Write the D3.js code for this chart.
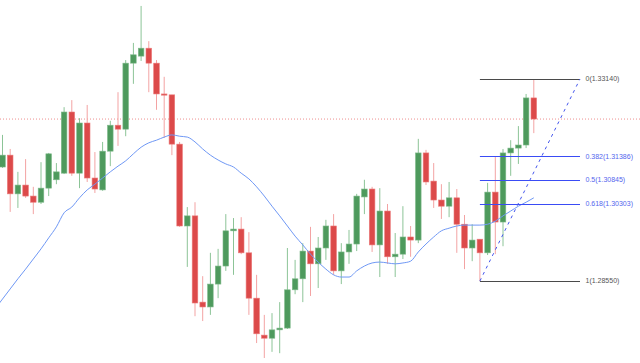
<!DOCTYPE html>
<meta charset="utf-8">
<style>
  body { margin: 0; background: #fff; }
  svg { display: block; }
</style>

<!-- Load d3.js -->
<script src="https://d3js.org/d3.v7.min.js"></script>

<svg id="chart" width="640" height="363"></svg>

<script>

// candle prices, oldest first
var opens  = [1.3114,1.3141,1.3053,1.3073,1.3048,1.3034,1.3066,1.3085,1.3100,1.3239,
              1.3100,1.3214,1.3089,1.3062,1.3150,1.3209,1.3200,1.3350,1.3366,1.3384,
              1.3350,1.3280,1.3278,1.3166,1.2980,1.3003,1.2807,1.2796,1.2848,1.2889,
              1.2969,1.2973,1.2919,1.2816,1.2732,1.2725,1.2744,1.2748,1.2835,1.2860,
              1.2923,1.2894,1.2930,1.2980,1.2878,1.2921,1.2939,1.3046,1.3064,1.2937,
              1.3014,1.2910,1.2916,1.2955,1.2948,1.3146,1.3082,1.3039,1.3025,1.3044,
              1.2984,1.2930,1.2950,1.2919,1.3057,1.2989,1.3146,1.3157,1.3164,1.3271];
var highs  = [1.3187,1.3155,1.3103,1.3132,1.3069,1.3125,1.3146,1.3123,1.3250,1.3266,
              1.3225,1.3255,1.3148,1.3171,1.3219,1.3284,1.3357,1.3396,1.3480,1.3400,
              1.3357,1.3319,1.3278,1.3171,1.3023,1.3034,1.2866,1.2919,1.2928,1.3007,
              1.2998,1.3000,1.2966,1.2869,1.2778,1.2782,1.2807,1.2930,1.2903,1.2941,
              1.2978,1.2955,1.2994,1.3007,1.2941,1.2971,1.3053,1.3085,1.3069,1.3066,
              1.3030,1.2964,1.3025,1.2980,1.3178,1.3153,1.3123,1.3075,1.3080,1.3064,
              1.3005,1.2984,1.2950,1.3078,1.3139,1.3155,1.3175,1.3207,1.3280,1.3314];
var lows   = [1.3112,1.3012,1.3021,1.3044,1.3007,1.3030,1.3048,1.3075,1.3098,1.3094,
              1.3066,1.3080,1.3055,1.3060,1.3116,1.3162,1.3184,1.3303,1.3355,1.3284,
              1.3244,1.3180,1.3141,1.2978,1.2887,1.2775,1.2764,1.2778,1.2816,1.2878,
              1.2869,1.2916,1.2778,1.2714,1.2680,1.2694,1.2691,1.2746,1.2825,1.2807,
              1.2821,1.2839,1.2903,1.2869,1.2848,1.2894,1.2923,1.3007,1.2921,1.2864,
              1.2894,1.2864,1.2905,1.2910,1.2941,1.3073,1.3021,1.2996,1.3000,1.2919,
              1.2882,1.2900,1.2855,1.2914,1.2916,1.2934,1.3094,1.3121,1.3157,1.3191];
var closes = [1.3141,1.3053,1.3073,1.3048,1.3034,1.3066,1.3144,1.3103,1.3239,1.3100,
              1.3214,1.3089,1.3064,1.3150,1.3209,1.3200,1.3350,1.3369,1.3384,1.3350,
              1.3280,1.3278,1.3166,1.2980,1.3003,1.2805,1.2796,1.2848,1.2889,1.2969,
              1.2973,1.2919,1.2816,1.2735,1.2725,1.2744,1.2748,1.2835,1.2860,1.2923,
              1.2894,1.2930,1.2980,1.2878,1.2921,1.2939,1.3048,1.3064,1.2937,1.3014,
              1.2910,1.2916,1.2955,1.2948,1.3146,1.3080,1.3039,1.3025,1.3044,1.2984,
              1.2930,1.2948,1.2919,1.3057,1.2989,1.3146,1.3157,1.3164,1.3271,1.3223];

// moving average, first value belongs to the bar just left of the window
var ma = [1.2791,
          1.2814,1.2837,1.2860,1.2882,1.2905,1.2928,1.2953,1.2978,1.3010,1.3023,
          1.3044,1.3062,1.3075,1.3089,1.3103,1.3116,1.3128,1.3144,1.3159,1.3169,
          1.3175,1.3182,1.3187,1.3184,1.3182,1.3171,1.3155,1.3141,1.3130,1.3121,
          1.3114,1.3100,1.3087,1.3069,1.3048,1.3025,1.3003,1.2980,1.2957,1.2937,
          1.2916,1.2898,1.2882,1.2869,1.2864,1.2864,1.2878,1.2889,1.2896,1.2898,
          1.2896,1.2894,1.2896,1.2900,1.2921,1.2939,1.2955,1.2969,1.2975,1.2980,
          1.2982,1.2982,1.2982,1.2984,1.2991,1.3003,1.3014,1.3025,1.3034,1.3044];

// fibonacci retracement drawn from the low bar to a point right of the last bar
var fibLevels = [0, 0.382, 0.5, 0.618, 1];
var fibPrices = [1.33140, 1.31386, 1.30845, 1.30303, 1.28550];
var fibStartBar = 62, fibEndBar = 75;

var width = 640, height = 363;
var svg = d3.select("#chart");

svg.append("rect").attr("width", width).attr("height", height).attr("fill", "#fff");

// scales
var x = d3.scaleLinear().domain([0, 69]).range([2.5, 533.8]);
var y = d3.scaleLinear().domain([1.28550, 1.33140]).range([281, 79]);

svg.append("clipPath").attr("id", "clip")
  .append("rect").attr("width", width).attr("height", height);

var plot = svg.append("g").attr("clip-path", "url(#clip)");

// last price line
var last = closes[closes.length - 1];
plot.append("line")
  .attr("x1", 0).attr("x2", width)
  .attr("y1", y(last)).attr("y2", y(last))
  .attr("stroke", "#ee8f8f")
  .attr("stroke-width", 1)
  .attr("stroke-dasharray", "1,2");

// build candle rows
var candles = opens.map(function(o, i) {
  return {i: i, o: o, h: highs[i], l: lows[i], c: closes[i]};
});

var up = {fill: "#4e9a5d", edge: "#7fb98a", wick: "#8cc497"};
var down = {fill: "#dc4a4a", edge: "#ec7a7a", wick: "#f3a3a3"};
var bodyW = 5.6;

var g = plot.append("g").selectAll("g")
  .data(candles)
  .enter().append("g");

g.append("line")
  .attr("x1", function(d) { return x(d.i); })
  .attr("x2", function(d) { return x(d.i); })
  .attr("y1", function(d) { return y(d.h); })
  .attr("y2", function(d) { return y(d.l); })
  .attr("stroke", function(d) { return d.c >= d.o ? up.wick : down.wick; })
  .attr("stroke-width", 1);

g.append("rect")
  .attr("x", function(d) { return x(d.i) - bodyW / 2; })
  .attr("y", function(d) { return y(Math.max(d.o, d.c)); })
  .attr("width", bodyW)
  .attr("height", function(d) { return Math.max(1.2, y(Math.min(d.o, d.c)) - y(Math.max(d.o, d.c))); })
  .attr("fill", function(d) { return d.c >= d.o ? up.fill : down.fill; })
  .attr("stroke", function(d) { return d.c >= d.o ? up.edge : down.edge; })
  .attr("stroke-width", 0.6);

// moving average
var maLine = d3.line()
  .x(function(d, i) { return x(i - 1); })
  .y(function(d) { return y(d); })
  .curve(d3.curveMonotoneX);

plot.append("path")
  .datum(ma)
  .attr("d", maLine)
  .attr("fill", "none")
  .attr("stroke", "#6f98f5")
  .attr("stroke-width", 1);

// fibonacci levels
var fib = plot.append("g");
fibLevels.forEach(function(lv, k) {
  var edge = (lv === 0 || lv === 1);
  fib.append("line")
    .attr("x1", x(fibStartBar)).attr("x2", x(fibEndBar))
    .attr("y1", Math.round(y(fibPrices[k])) + 0.5).attr("y2", Math.round(y(fibPrices[k])) + 0.5)
    .attr("stroke", edge ? "#4a4a4a" : "#3a4cf5")
    .attr("stroke-width", 1);
  fib.append("text")
    .attr("x", x(fibEndBar) + 5.5)
    .attr("y", y(fibPrices[k]))
    .attr("dy", "0.35em")
    .attr("font-family", "Liberation Sans, Arial, sans-serif")
    .attr("font-size", 7)
    .attr("fill", edge ? "#555" : "#5466ee")
    .text(lv + "(" + fibPrices[k].toFixed(5) + ")");
});

// trend line of the retracement
fib.append("line")
  .attr("x1", x(fibStartBar)).attr("y1", y(fibPrices[4]))
  .attr("x2", x(fibEndBar)).attr("y2", y(fibPrices[0]))
  .attr("stroke", "#4456ee")
  .attr("stroke-width", 1)
  .attr("stroke-dasharray", "3,4");

</script>
